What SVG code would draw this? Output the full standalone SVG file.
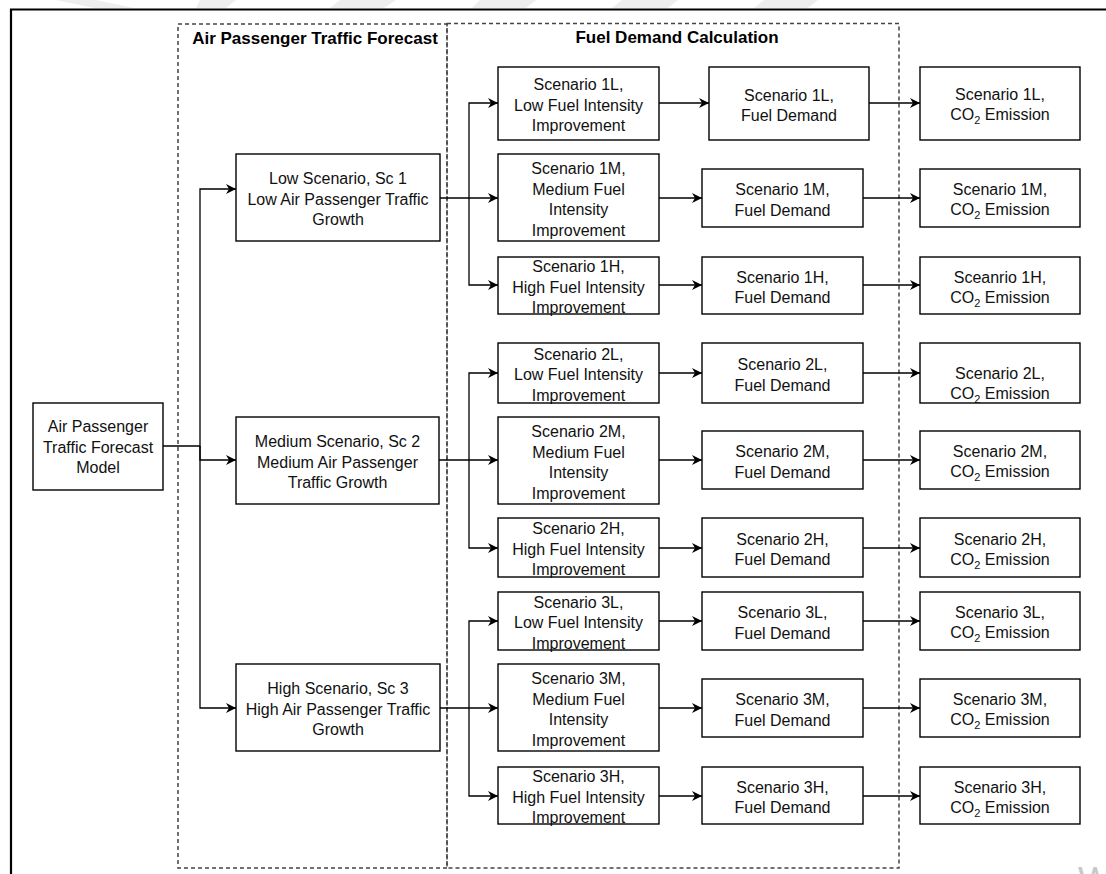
<svg xmlns="http://www.w3.org/2000/svg" width="1106" height="874" viewBox="0 0 1106 874">
<style>
.box{fill:#fff;stroke:#000;stroke-width:1.4}
.grp{fill:none;stroke:#444;stroke-width:1.5;stroke-dasharray:4 3}
.t{font-family:"Liberation Sans",Arial,sans-serif;font-size:16px;fill:#111;text-anchor:middle}
.ttl{font-family:"Liberation Sans",Arial,sans-serif;font-size:17px;font-weight:bold;fill:#000;text-anchor:middle}
.c{fill:none;stroke:#000;stroke-width:1.3}
.sub{font-size:11px}
</style>
<defs>
<marker id="ah" viewBox="0 0 10 10" refX="10" refY="5" markerWidth="10" markerHeight="10" markerUnits="userSpaceOnUse" orient="auto">
<path d="M0,0 L10,5 L0,10 L3,5 z" fill="#000"/>
</marker>
</defs>
<rect width="1106" height="874" fill="#fff"/>
<g id="watermark" fill="#eeeeee">
<polygon points="56,0 96,0 134,8 94,8"/>
<polygon points="200,0 236,0 226,8 196,8"/>
<polygon points="340,0 396,0 384,8 330,8"/>
<polygon points="480,0 536,0 526,8 472,8"/>
<polygon points="622,0 678,0 668,8 612,8"/>
<polygon points="764,0 818,0 808,8 754,8"/>
<text x="1078" y="893" style="font-family:'Liberation Sans',Arial,sans-serif;font-size:36px;fill:#c8c8c8">W</text>
</g>
<g id="frame">
<path d="M11,874 V9.5 H1106" fill="none" stroke="#000" stroke-width="2.2"/>
</g>
<g id="group-forecast">
<rect class="grp" x="178" y="24" width="269" height="844"/>
<text class="ttl" x="315" y="44">Air Passenger Traffic Forecast</text>
</g>
<g id="group-fuel">
<rect class="grp" x="447" y="23.5" width="452" height="844.5"/>
<text class="ttl" x="677" y="43">Fuel Demand Calculation</text>
</g>
<g id="connectors">
<path class="c" d="M163,446 H200 V189 H236" marker-end="url(#ah)"/>
<path class="c" d="M200,446 V460 H236" marker-end="url(#ah)"/>
<path class="c" d="M200,446 V708 H236" marker-end="url(#ah)"/>
<path class="c" d="M440,198 H498" marker-end="url(#ah)"/>
<path class="c" d="M469,198 V103 H498" marker-end="url(#ah)"/>
<path class="c" d="M469,198 V285 H498" marker-end="url(#ah)"/>
<path class="c" d="M439,460 H498" marker-end="url(#ah)"/>
<path class="c" d="M469,460 V373 H498" marker-end="url(#ah)"/>
<path class="c" d="M469,460 V548 H498" marker-end="url(#ah)"/>
<path class="c" d="M440,708 H498" marker-end="url(#ah)"/>
<path class="c" d="M469,708 V621 H498" marker-end="url(#ah)"/>
<path class="c" d="M469,708 V796 H498" marker-end="url(#ah)"/>
<path class="c" d="M659,103 H709" marker-end="url(#ah)"/>
<path class="c" d="M659,198 H702" marker-end="url(#ah)"/>
<path class="c" d="M659,285 H702" marker-end="url(#ah)"/>
<path class="c" d="M659,373 H702" marker-end="url(#ah)"/>
<path class="c" d="M659,460 H702" marker-end="url(#ah)"/>
<path class="c" d="M659,548 H702" marker-end="url(#ah)"/>
<path class="c" d="M659,621 H702" marker-end="url(#ah)"/>
<path class="c" d="M659,708 H702" marker-end="url(#ah)"/>
<path class="c" d="M659,796 H702" marker-end="url(#ah)"/>
<path class="c" d="M869,103 H920" marker-end="url(#ah)"/>
<path class="c" d="M863,198 H920" marker-end="url(#ah)"/>
<path class="c" d="M863,285 H920" marker-end="url(#ah)"/>
<path class="c" d="M863,373 H920" marker-end="url(#ah)"/>
<path class="c" d="M863,460 H920" marker-end="url(#ah)"/>
<path class="c" d="M863,548 H920" marker-end="url(#ah)"/>
<path class="c" d="M863,621 H920" marker-end="url(#ah)"/>
<path class="c" d="M863,708 H920" marker-end="url(#ah)"/>
<path class="c" d="M863,796 H920" marker-end="url(#ah)"/>
</g>
<g id="model">
<rect class="box" x="33" y="403" width="130" height="87"/>
<text class="t" x="98"><tspan x="98" y="432">Air Passenger</tspan><tspan x="98" y="452.5">Traffic Forecast</tspan><tspan x="98" y="473">Model</tspan></text>
</g>
<g id="sc1">
<rect class="box" x="236" y="154" width="204" height="87"/>
<text class="t"><tspan x="338" y="184.3">Low Scenario, Sc 1</tspan><tspan x="338" y="204.8">Low Air Passenger Traffic</tspan><tspan x="338" y="225.3">Growth</tspan></text>
</g>
<g id="sc2">
<rect class="box" x="236" y="417" width="203" height="87"/>
<text class="t"><tspan x="337.5" y="447.3">Medium Scenario, Sc 2</tspan><tspan x="337.5" y="467.8">Medium Air Passenger</tspan><tspan x="337.5" y="488.3">Traffic Growth</tspan></text>
</g>
<g id="sc3">
<rect class="box" x="236" y="664" width="204" height="87"/>
<text class="t"><tspan x="338" y="694.3">High Scenario, Sc 3</tspan><tspan x="338" y="714.8">High Air Passenger Traffic</tspan><tspan x="338" y="735.3">Growth</tspan></text>
</g>
<g id="fi-1L">
<rect class="box" x="498" y="67" width="161" height="73"/>
<text class="t"><tspan x="578.5" y="90.3">Scenario 1L,</tspan><tspan x="578.5" y="110.8">Low Fuel Intensity</tspan><tspan x="578.5" y="131.3">Improvement</tspan></text>
</g>
<g id="fi-1M">
<rect class="box" x="498" y="154" width="161" height="87"/>
<text class="t"><tspan x="578.5" y="174">Scenario 1M,</tspan><tspan x="578.5" y="194.5">Medium Fuel</tspan><tspan x="578.5" y="215">Intensity</tspan><tspan x="578.5" y="235.5">Improvement</tspan></text>
</g>
<g id="fi-1H">
<rect class="box" x="498" y="257" width="161" height="57"/>
<text class="t"><tspan x="578.5" y="272.3">Scenario 1H,</tspan><tspan x="578.5" y="292.8">High Fuel Intensity</tspan><tspan x="578.5" y="313.3">Improvement</tspan></text>
</g>
<g id="fi-2L">
<rect class="box" x="498" y="343" width="161" height="60"/>
<text class="t"><tspan x="578.5" y="359.8">Scenario 2L,</tspan><tspan x="578.5" y="380.3">Low Fuel Intensity</tspan><tspan x="578.5" y="400.8">Improvement</tspan></text>
</g>
<g id="fi-2M">
<rect class="box" x="498" y="417" width="161" height="87"/>
<text class="t"><tspan x="578.5" y="437">Scenario 2M,</tspan><tspan x="578.5" y="457.5">Medium Fuel</tspan><tspan x="578.5" y="478">Intensity</tspan><tspan x="578.5" y="498.5">Improvement</tspan></text>
</g>
<g id="fi-2H">
<rect class="box" x="498" y="518" width="161" height="59"/>
<text class="t"><tspan x="578.5" y="534.3">Scenario 2H,</tspan><tspan x="578.5" y="554.8">High Fuel Intensity</tspan><tspan x="578.5" y="575.3">Improvement</tspan></text>
</g>
<g id="fi-3L">
<rect class="box" x="498" y="592" width="161" height="58"/>
<text class="t"><tspan x="578.5" y="607.8">Scenario 3L,</tspan><tspan x="578.5" y="628.3">Low Fuel Intensity</tspan><tspan x="578.5" y="648.8">Improvement</tspan></text>
</g>
<g id="fi-3M">
<rect class="box" x="498" y="664" width="161" height="87"/>
<text class="t"><tspan x="578.5" y="684">Scenario 3M,</tspan><tspan x="578.5" y="704.5">Medium Fuel</tspan><tspan x="578.5" y="725">Intensity</tspan><tspan x="578.5" y="745.5">Improvement</tspan></text>
</g>
<g id="fi-3H">
<rect class="box" x="498" y="767" width="161" height="57"/>
<text class="t"><tspan x="578.5" y="782.3">Scenario 3H,</tspan><tspan x="578.5" y="802.8">High Fuel Intensity</tspan><tspan x="578.5" y="823.3">Improvement</tspan></text>
</g>
<g id="fd-1L">
<rect class="box" x="709" y="67" width="160" height="73"/>
<text class="t"><tspan x="789" y="100.5">Scenario 1L,</tspan><tspan x="789" y="121">Fuel Demand</tspan></text>
</g>
<g id="fd-1M">
<rect class="box" x="702" y="169" width="161" height="58"/>
<text class="t"><tspan x="782.5" y="195">Scenario 1M,</tspan><tspan x="782.5" y="215.5">Fuel Demand</tspan></text>
</g>
<g id="fd-1H">
<rect class="box" x="702" y="257" width="161" height="57"/>
<text class="t"><tspan x="782.5" y="282.5">Scenario 1H,</tspan><tspan x="782.5" y="303">Fuel Demand</tspan></text>
</g>
<g id="fd-2L">
<rect class="box" x="702" y="343" width="161" height="60"/>
<text class="t"><tspan x="782.5" y="370">Scenario 2L,</tspan><tspan x="782.5" y="390.5">Fuel Demand</tspan></text>
</g>
<g id="fd-2M">
<rect class="box" x="702" y="431" width="161" height="58"/>
<text class="t"><tspan x="782.5" y="457">Scenario 2M,</tspan><tspan x="782.5" y="477.5">Fuel Demand</tspan></text>
</g>
<g id="fd-2H">
<rect class="box" x="702" y="518" width="161" height="59"/>
<text class="t"><tspan x="782.5" y="544.5">Scenario 2H,</tspan><tspan x="782.5" y="565">Fuel Demand</tspan></text>
</g>
<g id="fd-3L">
<rect class="box" x="702" y="592" width="161" height="58"/>
<text class="t"><tspan x="782.5" y="618">Scenario 3L,</tspan><tspan x="782.5" y="638.5">Fuel Demand</tspan></text>
</g>
<g id="fd-3M">
<rect class="box" x="702" y="679" width="161" height="58"/>
<text class="t"><tspan x="782.5" y="705">Scenario 3M,</tspan><tspan x="782.5" y="725.5">Fuel Demand</tspan></text>
</g>
<g id="fd-3H">
<rect class="box" x="702" y="767" width="161" height="57"/>
<text class="t"><tspan x="782.5" y="792.5">Scenario 3H,</tspan><tspan x="782.5" y="813">Fuel Demand</tspan></text>
</g>
<g id="co2-1L">
<rect class="box" x="920" y="67" width="160" height="73"/>
<text class="t" x="1000" y="99.5">Scenario 1L,</text>
<text class="t" x="1000" y="119.5">CO<tspan class="sub" dy="4">2</tspan><tspan dy="-4"> Emission</tspan></text>
</g>
<g id="co2-1M">
<rect class="box" x="920" y="169" width="160" height="58"/>
<text class="t" x="1000" y="195">Scenario 1M,</text>
<text class="t" x="1000" y="215">CO<tspan class="sub" dy="4">2</tspan><tspan dy="-4"> Emission</tspan></text>
</g>
<g id="co2-1H">
<rect class="box" x="920" y="257" width="160" height="57"/>
<text class="t" x="1000" y="282.5">Sceanrio 1H,</text>
<text class="t" x="1000" y="302.5">CO<tspan class="sub" dy="4">2</tspan><tspan dy="-4"> Emission</tspan></text>
</g>
<g id="co2-2L">
<rect class="box" x="920" y="343" width="160" height="60"/>
<text class="t" x="1000" y="379">Scenario 2L,</text>
<text class="t" x="1000" y="399">CO<tspan class="sub" dy="4">2</tspan><tspan dy="-4"> Emission</tspan></text>
</g>
<g id="co2-2M">
<rect class="box" x="920" y="431" width="160" height="58"/>
<text class="t" x="1000" y="457">Scenario 2M,</text>
<text class="t" x="1000" y="477">CO<tspan class="sub" dy="4">2</tspan><tspan dy="-4"> Emission</tspan></text>
</g>
<g id="co2-2H">
<rect class="box" x="920" y="518" width="160" height="59"/>
<text class="t" x="1000" y="544.5">Scenario 2H,</text>
<text class="t" x="1000" y="564.5">CO<tspan class="sub" dy="4">2</tspan><tspan dy="-4"> Emission</tspan></text>
</g>
<g id="co2-3L">
<rect class="box" x="920" y="592" width="160" height="58"/>
<text class="t" x="1000" y="618">Scenario 3L,</text>
<text class="t" x="1000" y="638">CO<tspan class="sub" dy="4">2</tspan><tspan dy="-4"> Emission</tspan></text>
</g>
<g id="co2-3M">
<rect class="box" x="920" y="679" width="160" height="58"/>
<text class="t" x="1000" y="705">Scenario 3M,</text>
<text class="t" x="1000" y="725">CO<tspan class="sub" dy="4">2</tspan><tspan dy="-4"> Emission</tspan></text>
</g>
<g id="co2-3H">
<rect class="box" x="920" y="767" width="160" height="57"/>
<text class="t" x="1000" y="792.5">Scenario 3H,</text>
<text class="t" x="1000" y="812.5">CO<tspan class="sub" dy="4">2</tspan><tspan dy="-4"> Emission</tspan></text>
</g>
</svg>
